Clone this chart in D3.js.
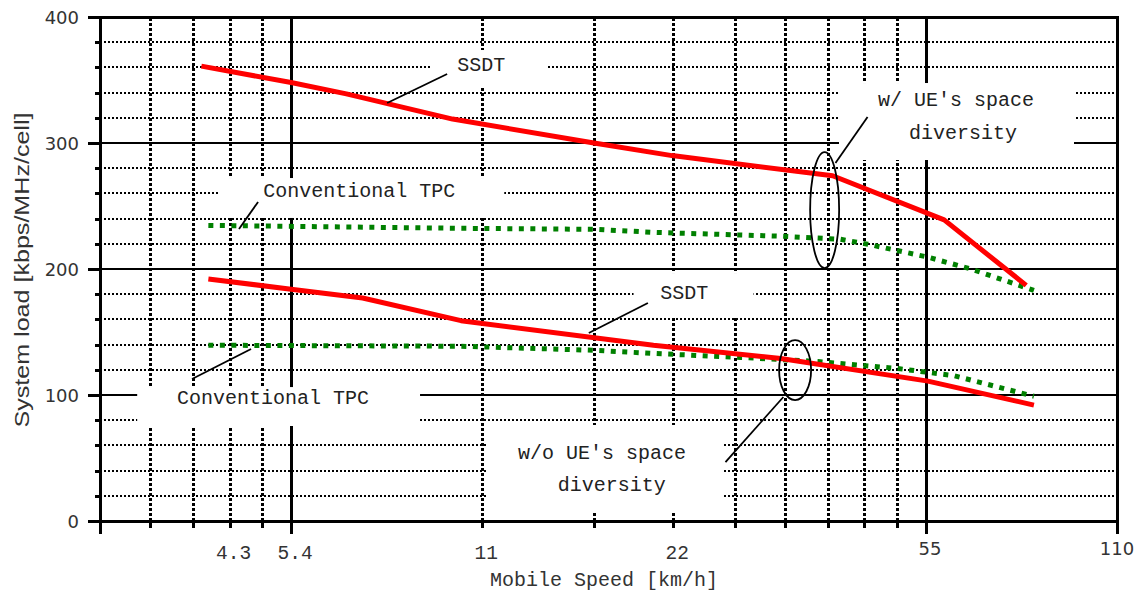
<!DOCTYPE html>
<html>
<head>
<meta charset="utf-8">
<script src="https://cdn.jsdelivr.net/npm/d3@7"></script>
<style>
body { margin: 0; background: #fff; }
</style>
</head>
<body>
<svg id="chart" width="1141" height="592"></svg>
<script>
// speed [km/h] and system load [kbps/MHz/cell]
var ssdtWithSpeed = [3.9, 5.4, 6.6, 9.7, 16.2, 21.5, 38.5, 57.7, 77.7];
var ssdtWithLoad  = [361, 348, 339, 319, 300, 290, 274, 239, 187];
var tpcWithSpeed  = [4.0, 10, 16.2, 20.1, 31.9, 39.6, 43.7, 54.4, 63.6, 79.9];
var tpcWithLoad   = [234.6, 232.3, 231.5, 229.1, 226, 223.6, 219.7, 209.4, 200, 183];
var ssdtWithoutSpeed = [4.0, 5.4, 7.0, 10, 20.1, 31.9, 54.4, 79.9];
var ssdtWithoutLoad  = [192, 184, 177, 159, 139.5, 129, 111, 92];
var tpcWithoutSpeed  = [4.0, 10, 16.2, 20.1, 27.6, 36.5, 48.8, 59.8, 79.9];
var tpcWithoutLoad   = [139.5, 138.7, 135.5, 133, 129.8, 126.6, 121, 115.3, 99];

var xTickValues = [4.32, 5.4, 10.8, 21.6, 54, 108];
var xTickLabels = ["4.3", "5.4", "11", "22", "55", "110"];
var yTickValues = [0, 100, 200, 300, 400];

// callouts, in data units
var notes = [
    ["SSDT", 9.87, 357.1],
    ["Conventional TPC", 4.88, 257.1],
    ["w/ UE's space", 45.4, 329.4],
    ["diversity", 50.8, 303.2],
    ["SSDT", 20.6, 176.2],
    ["Conventional TPC", 3.57, 92.9],
    ["w/o UE's space", 12.3, 49.2],
    ["diversity", 14.2, 23.8]
];
var boxes = [
    [8.94, 13.7, 343.7, 373.8],
    [4.17, 11.7, 240.5, 272.2],
    [39.4, 92.4, 286.5, 347.6],
    [18.7, 28.9, 161.1, 196.8],
    [3.09, 8.62, 75.4, 106.3],
    [10.96, 25.8, 7.1, 76.2]
];
var leaders = [
    [9.51, 354.8, 7.65, 331.7],
    [4.79, 253.2, 4.47, 231.7],
    [43.7, 320.6, 38.9, 284.1],
    [19.7, 173, 15.9, 149.2],
    [3.77, 112.7, 4.67, 136.5],
    [26.1, 46.8, 32.2, 98.4]
];
var rings = [[37.4, 246.8, 14.5, 58], [33.6, 119.8, 16, 30]];

var svg = d3.select("#chart");
var x = d3.scaleLog().domain([2.7, 108]).range([100, 1117]);
var y = d3.scaleLinear().domain([0, 400]).range([521, 17]);

var mono = "'Liberation Mono', 'DejaVu Sans Mono', monospace";
var sans = "'DejaVu Sans', sans-serif";

// grid: log grid anchored on 5.4 km/h (10 Hz doppler)
var gridMinorX = [0.6, 0.7, 0.8, 0.9, 2, 3, 4, 5, 6, 7, 8, 9].map(function(k) { return 5.4 * k; });
var gridMajorX = [5.4, 54];
var gridY = d3.range(20, 400, 20);

var grid = svg.append("g").attr("shape-rendering", "crispEdges");
grid.selectAll(".hy").data(gridY).enter().append("line")
    .attr("x1", x(2.7)).attr("x2", x(108))
    .attr("y1", function(d) { return Math.round(y(d)); })
    .attr("y2", function(d) { return Math.round(y(d)); })
    .attr("stroke", "#000")
    .attr("stroke-width", 2)
    .attr("stroke-dasharray", function(d) { return d % 100 === 0 ? null : "2,2"; });
grid.selectAll(".vx").data(gridMinorX).enter().append("line")
    .attr("x1", function(d) { return Math.round(x(d)); })
    .attr("x2", function(d) { return Math.round(x(d)); })
    .attr("y1", y(0)).attr("y2", y(400))
    .attr("stroke", "#000")
    .attr("stroke-width", 3)
    .attr("stroke-dasharray", "3,2");
grid.selectAll(".vX").data(gridMajorX).enter().append("line")
    .attr("x1", function(d) { return Math.round(x(d)); })
    .attr("x2", function(d) { return Math.round(x(d)); })
    .attr("y1", y(0)).attr("y2", y(400))
    .attr("stroke", "#000")
    .attr("stroke-width", 3);

// white boxes behind the callout texts
svg.append("g").selectAll("rect").data(boxes).enter().append("rect")
    .attr("x", function(d) { return x(d[0]); })
    .attr("width", function(d) { return x(d[1]) - x(d[0]); })
    .attr("y", function(d) { return y(d[3]); })
    .attr("height", function(d) { return y(d[2]) - y(d[3]); })
    .attr("fill", "#fff");

// frame + ticks
var frame = svg.append("g").attr("stroke", "#000").attr("stroke-width", 3)
    .attr("shape-rendering", "crispEdges");
frame.append("rect")
    .attr("x", x(2.7)).attr("y", y(400))
    .attr("width", x(108) - x(2.7)).attr("height", y(0) - y(400))
    .attr("fill", "none");
frame.selectAll(".ty").data(d3.range(0, 401, 20)).enter().append("line")
    .attr("x1", function(d) { return x(2.7) - (d % 100 === 0 ? 12 : 5); })
    .attr("x2", x(2.7))
    .attr("y1", function(d) { return Math.round(y(d)); })
    .attr("y2", function(d) { return Math.round(y(d)); });
var xTickAll = [2.7, 108].concat(gridMinorX, gridMajorX);
frame.selectAll(".tx").data(xTickAll).enter().append("line")
    .attr("x1", function(d) { return Math.round(x(d)); })
    .attr("x2", function(d) { return Math.round(x(d)); })
    .attr("y1", y(0))
    .attr("y2", function(d) { return y(0) + (gridMajorX.indexOf(d) >= 0 || d === 2.7 || d === 108 ? 13 : 7); });

// tick labels
svg.append("g").selectAll("text").data(yTickValues).enter().append("text")
    .attr("x", 79)
    .attr("y", function(d) { return y(d) + 6.5; })
    .attr("text-anchor", "end")
    .attr("font-family", sans).attr("font-size", 18).attr("fill", "#333")
    .text(function(d) { return d; });
svg.append("g").selectAll("text").data(xTickValues).enter().append("text")
    .attr("x", function(d) { return x(d) + (d >= 100 ? 0 : 4); })
    .attr("y", function(d) { return d >= 54 ? 555 : 559; })
    .attr("text-anchor", "middle")
    .attr("font-family", function(d) { return d >= 54 ? sans : mono; })
    .attr("font-size", function(d) { return d >= 54 ? 18 : 19.5; })
    .attr("fill", "#333")
    .text(function(d, i) { return xTickLabels[i]; });

// axis titles
svg.append("text")
    .attr("x", 604).attr("y", 586)
    .attr("text-anchor", "middle")
    .attr("font-family", mono).attr("font-size", 20).attr("fill", "#333")
    .text("Mobile Speed [km/h]");
svg.append("text")
    .attr("transform", "translate(29,270) rotate(-90)")
    .attr("text-anchor", "middle")
    .attr("font-family", "'Liberation Sans', Arial, sans-serif").attr("font-size", 21)
    .attr("textLength", 315).attr("lengthAdjust", "spacingAndGlyphs")
    .attr("fill", "#333")
    .text("System load [kbps/MHz/cell]");

// curves
function curve(speeds, loads) {
    return d3.line()
        .x(function(d, i) { return x(speeds[i]); })
        .y(function(d) { return y(d); })(loads);
}
var lines = svg.append("g").attr("fill", "none");
lines.append("path").attr("d", curve(tpcWithSpeed, tpcWithLoad))
    .attr("stroke", "#008000").attr("stroke-width", 5).attr("stroke-dasharray", "5,6.5");
lines.append("path").attr("d", curve(tpcWithoutSpeed, tpcWithoutLoad))
    .attr("stroke", "#008000").attr("stroke-width", 5).attr("stroke-dasharray", "5,6.5");
lines.append("path").attr("d", curve(ssdtWithSpeed, ssdtWithLoad))
    .attr("stroke", "#ff0000").attr("stroke-width", 5).attr("stroke-linejoin", "round");
lines.append("path").attr("d", curve(ssdtWithoutSpeed, ssdtWithoutLoad))
    .attr("stroke", "#ff0000").attr("stroke-width", 5).attr("stroke-linejoin", "round");

// callouts
var ann = svg.append("g");
ann.selectAll("line").data(leaders).enter().append("line")
    .attr("x1", function(d) { return x(d[0]); })
    .attr("y1", function(d) { return y(d[1]); })
    .attr("x2", function(d) { return x(d[2]); })
    .attr("y2", function(d) { return y(d[3]); })
    .attr("stroke", "#000").attr("stroke-width", 1.8);
ann.selectAll("ellipse").data(rings).enter().append("ellipse")
    .attr("cx", function(d) { return x(d[0]); })
    .attr("cy", function(d) { return y(d[1]); })
    .attr("rx", function(d) { return d[2]; })
    .attr("ry", function(d) { return d[3]; })
    .attr("fill", "none").attr("stroke", "#000").attr("stroke-width", 1.8);
ann.selectAll("text").data(notes).enter().append("text")
    .attr("x", function(d) { return x(d[1]); })
    .attr("y", function(d) { return y(d[2]); })
    .attr("font-family", mono).attr("font-size", 20).attr("fill", "#222")
    .text(function(d) { return d[0]; });
</script>
</body>
</html>
